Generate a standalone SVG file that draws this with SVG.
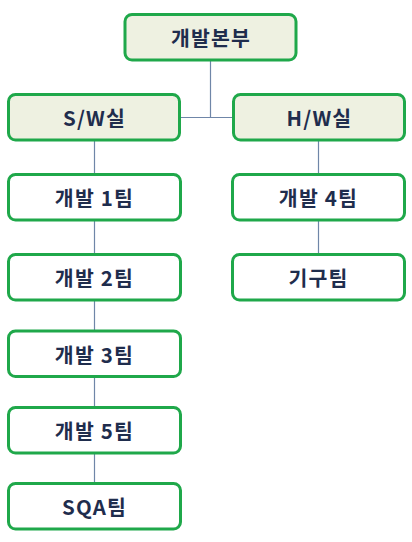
<svg xmlns="http://www.w3.org/2000/svg" width="412" height="542" viewBox="0 0 412 542">
<style>
.box{fill:#ffffff;stroke:#1fa84a;stroke-width:3}
.top{fill:#eef1e1}
.t{font-family:"Noto Sans CJK KR","Noto Sans",sans-serif;font-weight:bold;font-size:20.5px;letter-spacing:1.2px;fill:#1f2d4d;text-anchor:middle;dominant-baseline:central}
.c{stroke:#6f86a8;stroke-width:1.2;fill:none}
</style>
<rect width="412" height="542" fill="#ffffff"/>
<g id="connectors">
<path class="c" d="M210.5 60V117.5M180 117.5H233"/>
<path class="c" d="M94.5 140V174M94.5 220V254M94.5 300V331M94.5 377V407M94.5 453V483"/>
<path class="c" d="M318.5 140V174M318.5 220V254"/>
</g>
<g id="n-top"><rect class="box top" x="125" y="14.5" width="171" height="45.5" rx="7"/><text class="t" x="211" y="37">개발본부</text></g>
<g id="n-sw"><rect class="box top" x="8.5" y="94.5" width="171" height="45.5" rx="7"/><text class="t" x="94.5" y="117">S/W실</text></g>
<g id="n-hw"><rect class="box top" x="233.5" y="94.5" width="171" height="45.5" rx="7"/><text class="t" x="319.5" y="117">H/W실</text></g>
<g id="n-d1"><rect class="box" x="8.5" y="174.5" width="172" height="45.5" rx="7"/><text class="t" x="94.5" y="197">개발 1팀</text></g>
<g id="n-d4"><rect class="box" x="232.5" y="174.5" width="172" height="45.5" rx="7"/><text class="t" x="318.5" y="197">개발 4팀</text></g>
<g id="n-d2"><rect class="box" x="8.5" y="254.5" width="172" height="45.5" rx="7"/><text class="t" x="94.5" y="277">개발 2팀</text></g>
<g id="n-mech"><rect class="box" x="232.5" y="254.5" width="172" height="45.5" rx="7"/><text class="t" x="318.5" y="277">기구팀</text></g>
<g id="n-d3"><rect class="box" x="8.5" y="331" width="172" height="45.5" rx="7"/><text class="t" x="94.5" y="354">개발 3팀</text></g>
<g id="n-d5"><rect class="box" x="8.5" y="407.5" width="172" height="45.5" rx="7"/><text class="t" x="94.5" y="430">개발 5팀</text></g>
<g id="n-sqa"><rect class="box" x="8.5" y="483.5" width="172" height="45.5" rx="7"/><text class="t" x="94.5" y="506">SQA팀</text></g>
</svg>
